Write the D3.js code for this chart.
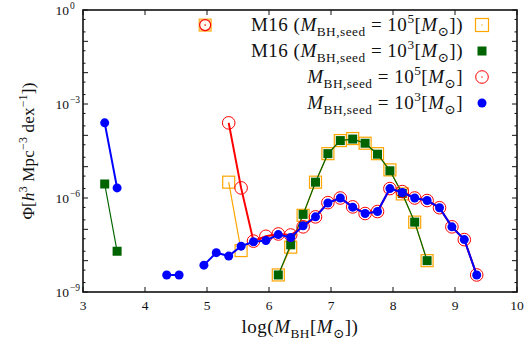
<!DOCTYPE html>
<html>
<head>
<meta charset="utf-8">
<script src="https://cdn.jsdelivr.net/npm/d3@7"></script>
<style>
  body { margin: 0; background: #fff; }
  text { font-family: "Liberation Serif", "DejaVu Serif", serif; fill: #111; }
</style>
</head>
<body>
<div id="chart"></div>
<script>
// Mass bins (log M_BH) and mass functions, null = no value (line breaks)
const bins = [3.35, 3.55, 3.75, 3.95, 4.15, 4.35, 4.55, 4.75, 4.95, 5.15, 5.35, 5.55, 5.75, 5.95,
              6.15, 6.35, 6.55, 6.75, 6.95, 7.15, 7.35, 7.55, 7.75, 7.95, 8.15, 8.35, 8.55,
              8.75, 8.95, 9.15, 9.35];

const seed3 = [2.5e-4, 2.1e-6, null, null, null, 3.5e-9, 3.5e-9, null, 7.2e-9, 1.8e-8, 1.4e-8, 2.9e-8, 4.0e-8, 4.4e-8,
               6.8e-8, 5.5e-8, 1.3e-7, 2.5e-7, 6.9e-7, 1.0e-6, 5.1e-7, 3.2e-7, 3.7e-7, 2.0e-6, 1.5e-6, 1.0e-6, 8.3e-7,
               4.9e-7, 1.2e-7, 4.7e-8, 3.5e-9];

const seed5 = [null, null, null, null, null, null, null, null, null, null, 2.5e-4, 2.1e-6, 4.2e-8, 6.0e-8,
               7.1e-8, 6.6e-8, 1.2e-7, 2.5e-7, 7.1e-7, 1.0e-6, 5.2e-7, 3.2e-7, 3.7e-7, 2.0e-6, 1.6e-6, 1.0e-6, 8.3e-7,
               4.9e-7, 1.2e-7, 4.7e-8, 3.5e-9];

const m16seed3 = [2.8e-6, 2.0e-8, null, null, null, null, null, null, null, null, null, null, null, null,
                  3.5e-9, 3.2e-8, 3.0e-7, 3.2e-6, 2.6e-5, 6.8e-5, 7.6e-5, 5.6e-5, 2.5e-5, 7.4e-6, 1.4e-6, 1.7e-7, 1.0e-8,
                  null, null, null, null];

const m16seed5 = [null, null, null, null, null, null, null, null, null, null, 3.2e-6, 2.1e-8, null, null,
                  3.5e-9, 2.7e-8, 2.8e-7, 3.2e-6, 2.6e-5, 6.8e-5, 7.9e-5, 5.6e-5, 2.6e-5, 7.9e-6, 1.35e-6, 1.7e-7, 1.0e-8,
                  null, null, null, null];

// lone marker near the top of the panel
const strayMark = [{ x: 4.97, y: 0.33 }];

const xTicks = [3, 4, 5, 6, 7, 8, 9, 10];
const yLabelExp = [0, -3, -6, -9];

const width = 529, height = 343;
const margin = { top: 10, right: 12, bottom: 51, left: 83 };

const svg = d3.select("#chart").append("svg")
    .attr("width", width)
    .attr("height", height);

const x = d3.scaleLinear().domain([3, 10]).range([margin.left, width - margin.right]);
const y = d3.scaleLog().domain([1e-9, 1]).range([height - margin.bottom, margin.top]);

const x0 = x.range()[0], x1 = x.range()[1];
const yb = y.range()[0], yt = y.range()[1];

// ticks (inward, on all four sides)
const ticks = svg.append("g").attr("stroke", "#111").attr("stroke-width", 1);
xTicks.forEach(v => {
    ticks.append("line").attr("x1", x(v)).attr("x2", x(v)).attr("y1", yb).attr("y2", yb - 5);
    ticks.append("line").attr("x1", x(v)).attr("x2", x(v)).attr("y1", yt).attr("y2", yt + 5);
});
for (let e = -9; e <= 0; e++) {
    const v = Math.pow(10, e);
    ticks.append("line").attr("x1", x0).attr("x2", x0 + 5).attr("y1", y(v)).attr("y2", y(v));
    ticks.append("line").attr("x1", x1).attr("x2", x1 - 5).attr("y1", y(v)).attr("y2", y(v));
    if (e < 0) {
        [2, 5].forEach(m => {
            const mv = m * v;
            ticks.append("line").attr("x1", x0).attr("x2", x0 + 2.5).attr("y1", y(mv)).attr("y2", y(mv));
            ticks.append("line").attr("x1", x1).attr("x2", x1 - 2.5).attr("y1", y(mv)).attr("y2", y(mv));
        });
    }
}

// tick labels
svg.append("g").selectAll("text").data(xTicks).enter().append("text")
    .attr("x", d => x(d)).attr("y", yb + 18)
    .attr("text-anchor", "middle")
    .attr("font-size", 13.5)
    .text(d => d);

const yl = svg.append("g");
yLabelExp.forEach(e => {
    yl.append("text").attr("x", x0 - 14).attr("y", y(Math.pow(10, e)) + 5)
        .attr("font-size", 13.5).attr("text-anchor", "end").text("10");
    yl.append("text").attr("x", x0 - 13).attr("y", y(Math.pow(10, e)) - 1)
        .attr("font-size", 9.5).text(e === 0 ? "0" : "\u2212" + (-e));
});

// rich text helper: parts {t, i (italic), s: "sub" | "sup"}
function richText(sel, parts, size) {
    let off = 0;
    parts.forEach(p => {
        const ts = sel.append("tspan").text(p.t);
        let target = 0;
        if (p.s === "sub") target = size * 0.28;
        if (p.s === "sup") target = -size * 0.4;
        if (target !== off) { ts.attr("dy", target - off); off = target; }
        if (p.s) ts.attr("font-size", size * 0.7);
        if (p.i) ts.attr("font-style", "italic");
    });
}

// axis labels
const xl = svg.append("text").attr("x", 300).attr("y", 333)
    .attr("text-anchor", "middle").attr("font-size", 19).attr("letter-spacing", 0.5);
richText(xl, [{ t: "log(" }, { t: "M", i: true }, { t: "BH", s: "sub" }, { t: "[" },
              { t: "M", i: true }, { t: "\u2299", s: "sub" }, { t: "])" }], 19);

const ylab = svg.append("text")
    .attr("transform", `translate(34,${(yb + yt) / 2}) rotate(-90)`)
    .attr("text-anchor", "middle").attr("font-size", 17).attr("letter-spacing", 0.2);
richText(ylab, [{ t: "\u03A6[" }, { t: "h", i: true }, { t: "3", s: "sup" }, { t: " Mpc" },
                { t: "\u22123", s: "sup" }, { t: " dex" }, { t: "\u22121", s: "sup" }, { t: "])" }], 17);

// series
const toPts = vals => bins.map((b, i) => ({ x: b, y: vals[i] }));
const line = d3.line().defined(d => d.y !== null).x(d => x(d.x)).y(d => y(d.y));
const plot = svg.append("g");

function drawLine(vals, color, w) {
    plot.append("path").datum(toPts(vals))
        .attr("fill", "none").attr("stroke", color).attr("stroke-width", w)
        .attr("d", line);
}
function squares(vals, size, fill, stroke, sw) {
    plot.append("g").selectAll("rect").data(toPts(vals).filter(d => d.y !== null)).enter().append("rect")
        .attr("x", d => x(d.x) - size / 2).attr("y", d => y(d.y) - size / 2)
        .attr("width", size).attr("height", size)
        .attr("fill", fill).attr("stroke", stroke).attr("stroke-width", sw);
}
function circles(vals, r, fill, stroke, sw) {
    plot.append("g").selectAll("circle").data(toPts(vals).filter(d => d.y !== null)).enter().append("circle")
        .attr("cx", d => x(d.x)).attr("cy", d => y(d.y)).attr("r", r)
        .attr("fill", fill).attr("stroke", stroke).attr("stroke-width", sw);
}

drawLine(m16seed5, "orange", 1.2);
squares(m16seed5, 12, "none", "orange", 1.2);
drawLine(m16seed3, "darkgreen", 1.2);
squares(m16seed3, 9, "darkgreen", "none", 0);
drawLine(seed5, "red", 2);
circles(seed5, 6.3, "none", "red", 1);
drawLine(seed3, "blue", 2);
circles(seed3, 4.5, "blue", "none", 0);

// stray marker
const sm = plot.append("g").selectAll("g").data(strayMark).enter().append("g")
    .attr("transform", d => `translate(${x(d.x)},${y(d.y)})`);
sm.append("rect").attr("x", -6).attr("y", -6).attr("width", 12).attr("height", 12)
    .attr("fill", "#fcd9a8").attr("stroke", "orange").attr("stroke-width", 1);
sm.append("circle").attr("r", 5.5).attr("fill", "#fff6ee").attr("stroke", "red").attr("stroke-width", 1.2);
sm.append("circle").attr("r", 0.8).attr("fill", "red");

// frame
svg.append("rect").attr("x", x0).attr("y", yt).attr("width", x1 - x0).attr("height", yb - yt)
    .attr("fill", "none").attr("stroke", "#111").attr("stroke-width", 1.6);

// legend
const legendItems = [
    { parts: [{ t: "M16 (" }, { t: "M", i: true }, { t: "BH,seed", s: "sub" }, { t: " = 10" }, { t: "5", s: "sup" },
              { t: "[" }, { t: "M", i: true }, { t: "\u2299", s: "sub" }, { t: "])" }], kind: "osq" },
    { parts: [{ t: "M16 (" }, { t: "M", i: true }, { t: "BH,seed", s: "sub" }, { t: " = 10" }, { t: "3", s: "sup" },
              { t: "[" }, { t: "M", i: true }, { t: "\u2299", s: "sub" }, { t: "])" }], kind: "gsq" },
    { parts: [{ t: "M", i: true }, { t: "BH,seed", s: "sub" }, { t: " = 10" }, { t: "5", s: "sup" },
              { t: "[" }, { t: "M", i: true }, { t: "\u2299", s: "sub" }, { t: "]" }], kind: "rc" },
    { parts: [{ t: "M", i: true }, { t: "BH,seed", s: "sub" }, { t: " = 10" }, { t: "3", s: "sup" },
              { t: "[" }, { t: "M", i: true }, { t: "\u2299", s: "sub" }, { t: "]" }], kind: "bc" }
];
const leg = svg.append("g");
legendItems.forEach((it, i) => {
    const cy = 25 + i * 26;
    const t = leg.append("text").attr("x", 463).attr("y", cy + 6)
        .attr("text-anchor", "end").attr("font-size", 19).attr("letter-spacing", 0.5);
    richText(t, it.parts, 19);
    const mx = 482;
    if (it.kind === "osq") {
        leg.append("rect").attr("x", mx - 6.5).attr("y", cy - 6.5).attr("width", 13).attr("height", 13)
            .attr("fill", "none").attr("stroke", "orange").attr("stroke-width", 1.2);
        leg.append("circle").attr("cx", mx).attr("cy", cy).attr("r", 0.7).attr("fill", "orange");
    } else if (it.kind === "gsq") {
        leg.append("rect").attr("x", mx - 4.5).attr("y", cy - 4.5).attr("width", 9).attr("height", 9)
            .attr("fill", "darkgreen");
    } else if (it.kind === "rc") {
        leg.append("circle").attr("cx", mx).attr("cy", cy).attr("r", 6.3)
            .attr("fill", "none").attr("stroke", "red").attr("stroke-width", 1);
        leg.append("circle").attr("cx", mx).attr("cy", cy).attr("r", 0.7).attr("fill", "red");
    } else {
        leg.append("circle").attr("cx", mx).attr("cy", cy).attr("r", 4.5).attr("fill", "blue");
    }
});
</script>
</body>
</html>
